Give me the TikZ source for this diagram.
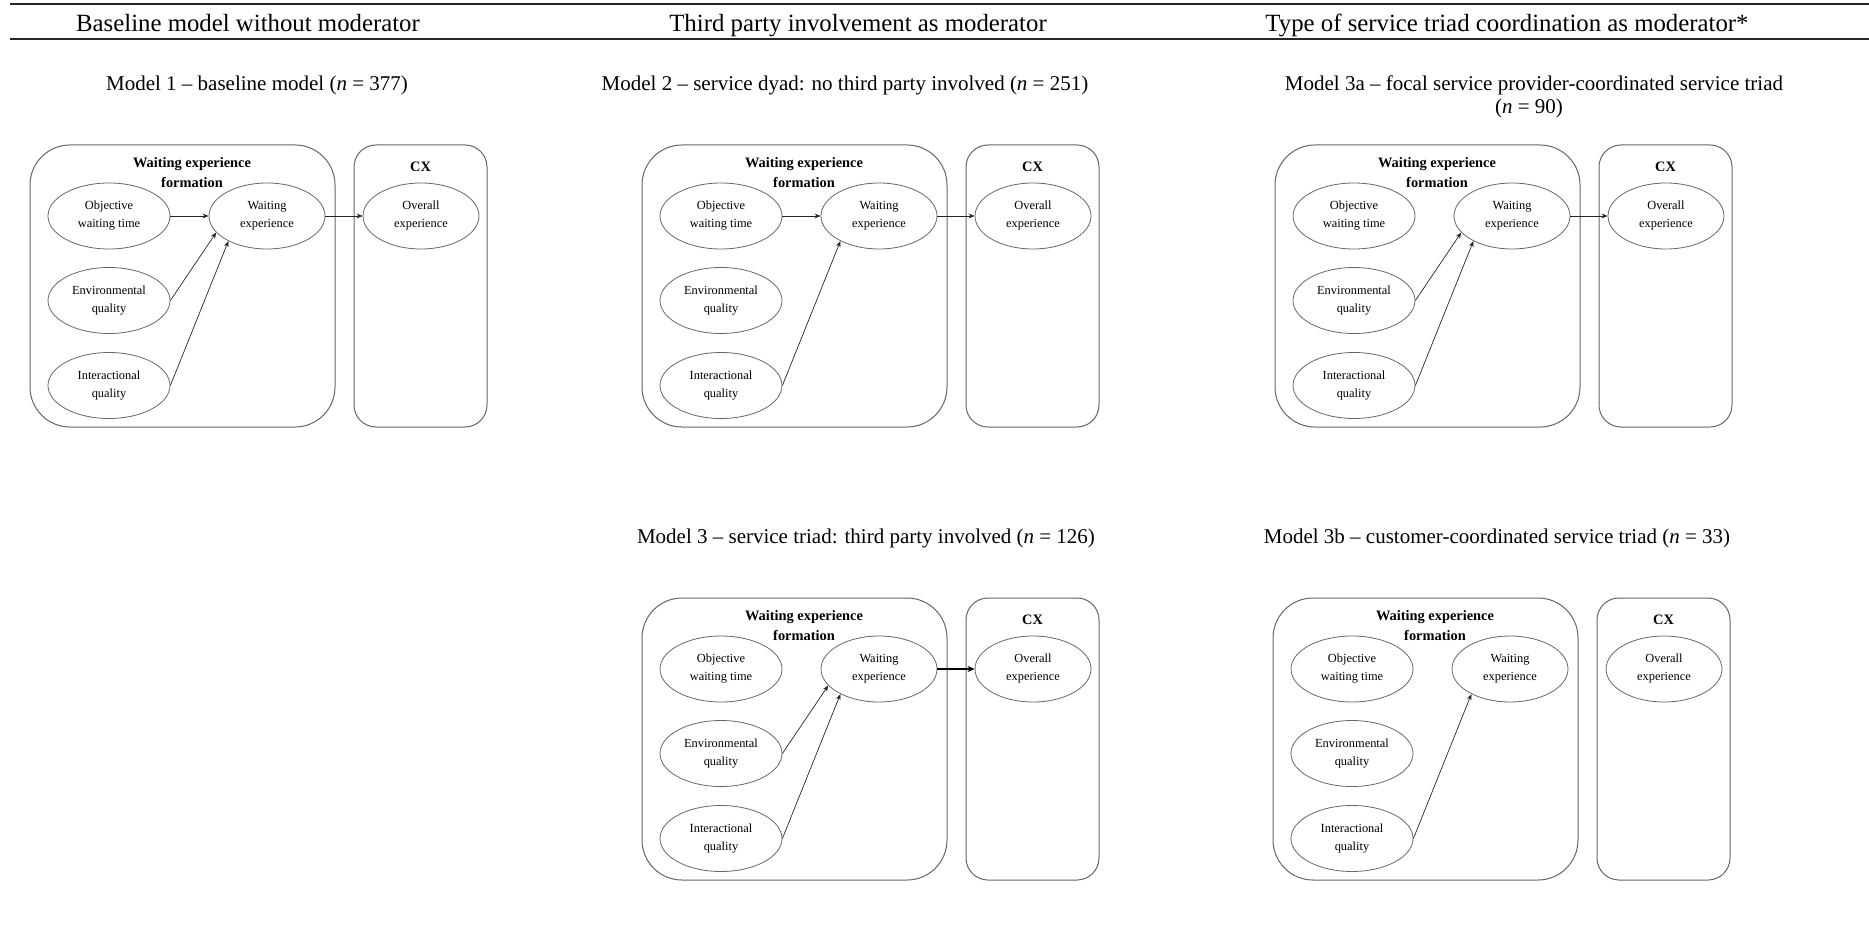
\documentclass[tikz,border=0pt]{standalone}
\usepackage{fontspec}
\setmainfont{Liberation Serif}
\usetikzlibrary{arrows.meta,shapes.geometric}
\newcommand\modelpanel[2]{%
 \begin{scope}[shift={#2}]
  \node[bigbox] (#1box) at (182.5,286) {};
  \node[cxbox] (#1cx) at (420.5,286) {};
  \node[btitle] (#1t) at (192,173) {Waiting experience\\formation};
  \node[btitle] (#1ct) at (420.5,167) {CX};
  \node[ell] (#1obj) at (109,216) {Objective\\waiting time};
  \node[ell] (#1env) at (109,300.5) {Environmental\\quality};
  \node[ell] (#1int) at (109,385.5) {Interactional\\quality};
  \node[ellw] (#1we) at (267,216) {Waiting\\experience};
  \node[ellw] (#1ov) at (421,216) {Overall\\experience};
 \end{scope}}
\begin{document}
\begin{tikzpicture}[x=0.5pt,y=-0.5pt,
  hdr/.style={font=\fontsize{12.4}{14}\selectfont, inner sep=0pt, anchor=base},
  mtitle/.style={font=\fontsize{10.5}{12}\selectfont, inner sep=0pt, anchor=base},
  bigbox/.style={draw=black!60, line width=0.5pt, rounded corners=20pt, minimum width=152.5pt, minimum height=141pt, inner sep=0pt},
  cxbox/.style={draw=black!60, line width=0.5pt, rounded corners=11pt, minimum width=66.5pt, minimum height=141pt, inner sep=0pt},
  btitle/.style={font=\fontsize{7.2}{10}\selectfont\bfseries, align=center, inner sep=0pt},
  ell/.style={ellipse, draw=black!60, line width=0.4pt, inner sep=0pt, minimum width=61pt, minimum height=33pt, font=\fontsize{6.2}{9}\selectfont, align=center},
  ellw/.style={ell, minimum width=58pt},
  arr/.style={-{Stealth[length=3pt,width=2.4pt]}, line width=0.35pt, draw=black!85},
  thickarr/.style={-{Stealth[length=3.5pt,width=3pt]}, line width=1pt, draw=black},
  rule/.style={line width=1pt, draw=black!85},
]
\useasboundingbox (0,0) rectangle (1869,941);
% rules
\coordinate (r1a) at (10,4); \coordinate (r1b) at (1869,4);
\coordinate (r2a) at (10,39); \coordinate (r2b) at (1869,39);
\draw[rule] (r1a) -- (r1b);
\draw[rule] (r2a) -- (r2b);
% headers
\node[hdr] (h1) at (248,32) {Baseline model without moderator};
\node[hdr] (h2) at (858,32) {Third party involvement as moderator};
\node[hdr] (h3) at (1507,32) {Type of service triad coordination as moderator*};
% model titles
\node[mtitle] (m1t) at (257,91) {Model 1 -- baseline model (\textit{n} = 377)};
\node[mtitle] (m2t) at (845,91) {Model 2 -- service dyad: no third party involved (\textit{n} = 251)};
\node[mtitle] (m3at) at (1534,91) {Model 3a -- focal service provider-coordinated service triad};
\node[mtitle] (m3at2) at (1529,114) {(\textit{n} = 90)};
\node[mtitle] (m3t) at (866,543) {Model 3 -- service triad: third party involved (\textit{n} = 126)};
\node[mtitle] (m3bt) at (1497,543) {Model 3b -- customer-coordinated service triad (\textit{n} = 33)};
% panels
\modelpanel{a}{(0,0)}
\modelpanel{b}{(612,0)}
\modelpanel{c}{(1245,0)}
\modelpanel{d}{(612,453)}
\modelpanel{e}{(1243,453)}
% Model 1
\draw[arr] (aobj.east) -- (awe.west);
\draw[arr] (aenv.east) -- (awe.-162);
\draw[arr] (aint.east) -- (awe.-147);
\draw[arr] (awe.east) -- (aov.west);
% Model 2
\draw[arr] (bobj.east) -- (bwe.west);
\draw[arr] (bint.east) -- (bwe.-147);
\draw[arr] (bwe.east) -- (bov.west);
% Model 3a
\draw[arr] (cenv.east) -- (cwe.-162);
\draw[arr] (cint.east) -- (cwe.-147);
\draw[arr] (cwe.east) -- (cov.west);
% Model 3
\draw[arr] (denv.east) -- (dwe.-162);
\draw[arr] (dint.east) -- (dwe.-147);
\draw[thickarr] (dwe.east) -- (dov.west);
% Model 3b
\draw[arr] (eint.east) -- (ewe.-147);
\end{tikzpicture}
\end{document}
